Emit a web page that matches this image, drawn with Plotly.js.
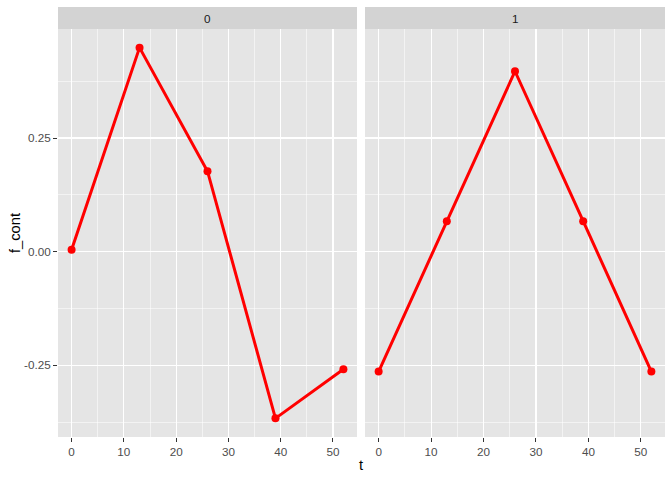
<!DOCTYPE html>
<html><head><meta charset="utf-8">
<script src="https://cdn.plot.ly/plotly-3.0.1.min.js"></script>
<style>body{margin:0;padding:0;background:#fff}#chart{width:672px;height:480px}</style>
</head><body><div id="chart"></div>
<script>
const t = [0, 13, 26, 39, 52];
const panels = ["0", "1"];
const fcont0 = [0.004, 0.449, 0.177, -0.367, -0.259];
const fcont1 = [-0.264, 0.067, 0.397, 0.067, -0.264];
const xTicks = [0, 10, 20, 30, 40, 50];
const yTickVals = [-0.25, 0, 0.25];
const yTickText = ["-0.25", "0.00", "0.25"];

const red = "#FF0000";
const mk = (y, xa) => ({
  x: t, y: y, xaxis: xa, yaxis: "y", type: "scatter", mode: "lines+markers",
  line: {color: red, width: 3}, marker: {color: red, size: 8}, showlegend: false, hoverinfo: "skip"
});
const data = [mk(fcont0, "x"), mk(fcont1, "x2")];

const W = 672, H = 480, L = 58, R = 7, T = 29, B = 43;
const pw = W - L - R, ph = H - T - B;
const d0 = [0, 299 / pw], d1 = [307 / pw, 1];
const xaxisBase = {
  range: [-2.6, 54.6], tickvals: xTicks, ticks: "outside", ticklen: 4, tickwidth: 1, tickcolor: "#333333",
  tickfont: {family: "Liberation Sans, Arial, sans-serif", size: 11.7, color: "#4D4D4D"},
  showgrid: true, gridcolor: "#FFFFFF", gridwidth: 1.1, zeroline: false, showline: false,
  minor: {dtick: 5, tick0: 5, showgrid: true, gridcolor: "#FFFFFF", gridwidth: 0.55, ticks: ""}
};
const yr = [-0.408, 0.490];
const layout = {
  width: W, height: H, margin: {l: L, r: R, t: T, b: B},
  paper_bgcolor: "#FFFFFF", plot_bgcolor: "#E5E5E5", showlegend: false,
  xaxis: Object.assign({}, xaxisBase, {domain: d0, anchor: "y"}),
  xaxis2: Object.assign({}, xaxisBase, {domain: d1, anchor: "y2"}),
  yaxis: {
    range: yr, domain: [0, 1], anchor: "x", tickvals: yTickVals, ticktext: yTickText,
    ticks: "outside", ticklen: 4, tickwidth: 1, tickcolor: "#333333",
    tickfont: {family: "Liberation Sans, Arial, sans-serif", size: 11.7, color: "#4D4D4D"},
    showgrid: true, gridcolor: "#FFFFFF", gridwidth: 1.1, zeroline: false, showline: false,
    minor: {dtick: 0.25, tick0: 0.125, showgrid: true, gridcolor: "#FFFFFF", gridwidth: 0.55, ticks: ""}
  },
  yaxis2: {
    range: yr, domain: [0, 1], anchor: "x2", matches: "y", showticklabels: false, ticks: "",
    tickvals: yTickVals,
    showgrid: true, gridcolor: "#FFFFFF", gridwidth: 1.1, zeroline: false, showline: false,
    minor: {dtick: 0.25, tick0: 0.125, showgrid: true, gridcolor: "#FFFFFF", gridwidth: 0.55, ticks: ""}
  },
  shapes: [
    {type: "rect", xref: "paper", yref: "paper", x0: d0[0], x1: d0[1], y0: 1, y1: 1 + 22 / ph, fillcolor: "#D3D3D3", line: {width: 0}, layer: "below"},
    {type: "rect", xref: "paper", yref: "paper", x0: d1[0], x1: d1[1], y0: 1, y1: 1 + 22 / ph, fillcolor: "#D3D3D3", line: {width: 0}, layer: "below"}
  ],
  annotations: [
    {text: panels[0], xref: "paper", yref: "paper", x: (d0[0] + d0[1]) / 2, y: 1 + 11 / ph, xanchor: "center", yanchor: "middle", showarrow: false,
     font: {family: "Liberation Sans, Arial, sans-serif", size: 11.7, color: "#1A1A1A"}},
    {text: panels[1], xref: "paper", yref: "paper", x: (d1[0] + d1[1]) / 2, y: 1 + 11 / ph, xanchor: "center", yanchor: "middle", showarrow: false,
     font: {family: "Liberation Sans, Arial, sans-serif", size: 11.7, color: "#1A1A1A"}},
    {text: "t", xref: "paper", yref: "paper", x: (361 - L) / pw, y: -(465 - (H - B)) / ph, xanchor: "center", yanchor: "middle", showarrow: false,
     font: {family: "Liberation Sans, Arial, sans-serif", size: 14.7, color: "#000000"}},
    {text: "f_cont", xref: "paper", yref: "paper", x: -(L - 15) / pw, y: 0.5, xanchor: "center", yanchor: "middle", showarrow: false, textangle: -90,
     font: {family: "Liberation Sans, Arial, sans-serif", size: 14.7, color: "#000000"}}
  ]
};
Plotly.newPlot("chart", data, layout, {staticPlot: true, displayModeBar: false});
</script></body></html>
